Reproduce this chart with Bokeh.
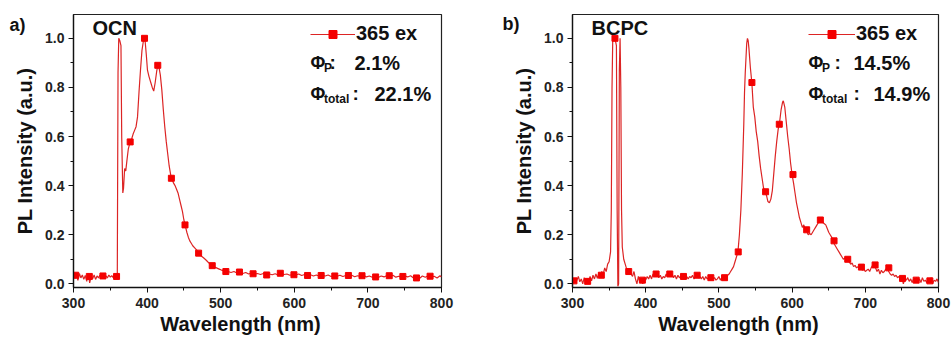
from bokeh.plotting import figure
from bokeh.layouts import row
from bokeh.models import (SingleIntervalTicker, FixedTicker, PrintfTickFormatter,
                          CustomJSTickFormatter, LinearAxis, Label, Legend, LegendItem)
from bokeh.embed import file_html
from bokeh.resources import INLINE

# ---------------- data: (wavelength nm, normalised PL intensity) ----------------
OCN_BASE = [(300, 0.045), (302, 0.022), (304, 0.038), (306, 0.014), (308, 0.042),
            (310, 0.024), (312, 0.036), (314, 0.018), (316, 0.034), (318, 0.010),
            (320, 0.042), (322, 0.004), (324, 0.030), (326, 0.020), (328, 0.036),
            (330, 0.018), (332, 0.032), (334, 0.024), (336, 0.036), (338, 0.022),
            (340, 0.034), (342, 0.026), (344, 0.032), (346, 0.024), (348, 0.036),
            (350, 0.027), (352, 0.033), (354, 0.025), (356, 0.034), (358, 0.028),
            (359.5, 0.030)]
OCN_PEAK = [(360.5, 0.86), (361.5, 1.00), (363, 0.99), (364.5, 0.97), (365.5, 0.60),
            (367, 0.37), (368, 0.39), (369.5, 0.47), (371, 0.46), (372.5, 0.50),
            (374.5, 0.55), (377, 0.578), (379, 0.59), (381, 0.61), (383, 0.625),
            (385, 0.64), (387, 0.68), (389, 0.78), (391, 0.87), (393, 0.95),
            (395, 0.99), (397, 1.00), (399, 0.93), (400.5, 0.87), (402.5, 0.845),
            (405, 0.82), (407, 0.80), (409, 0.785), (411, 0.82), (413, 0.865),
            (414.5, 0.89), (416, 0.885), (418, 0.85), (420, 0.79), (422, 0.71),
            (424, 0.64), (426, 0.58), (428, 0.53), (430, 0.48), (432, 0.445),
            (434, 0.425), (436, 0.41), (438, 0.40), (440, 0.385), (442, 0.37),
            (444, 0.345), (446, 0.32), (448, 0.295), (450, 0.26), (452, 0.235),
            (454, 0.21), (456, 0.19), (458, 0.175), (460, 0.165), (462, 0.155),
            (465, 0.145), (468, 0.135), (471, 0.122), (474, 0.112), (477, 0.105),
            (480, 0.097), (483, 0.088), (486, 0.080), (489, 0.073), (492, 0.068),
            (495, 0.064), (498, 0.060), (501, 0.056), (504, 0.053), (507, 0.050),
            (510, 0.050)]
OCN_TAIL = [(514, 0.046), (518, 0.050), (522, 0.044), (526, 0.048), (530, 0.042),
            (534, 0.046), (538, 0.040), (542, 0.044), (546, 0.040), (550, 0.042),
            (554, 0.038), (558, 0.042), (562, 0.036), (566, 0.040), (570, 0.037),
            (574, 0.041), (578, 0.036), (582, 0.043), (586, 0.038), (590, 0.040),
            (594, 0.035), (598, 0.039), (602, 0.036), (606, 0.040), (610, 0.034),
            (614, 0.038), (618, 0.033), (622, 0.037), (626, 0.032), (630, 0.036),
            (634, 0.031), (638, 0.035), (642, 0.032), (646, 0.036), (650, 0.030),
            (654, 0.034), (658, 0.031), (662, 0.035), (666, 0.030), (670, 0.034),
            (674, 0.031), (678, 0.035), (682, 0.029), (686, 0.033), (690, 0.030),
            (694, 0.035), (698, 0.028), (702, 0.032), (706, 0.027), (710, 0.031),
            (714, 0.026), (718, 0.032), (722, 0.028), (726, 0.034), (730, 0.030),
            (734, 0.035), (738, 0.027), (742, 0.031), (746, 0.026), (750, 0.032),
            (754, 0.028), (758, 0.033), (762, 0.024), (766, 0.030), (770, 0.022),
            (774, 0.032), (778, 0.027), (782, 0.033), (786, 0.026), (790, 0.031),
            (794, 0.024), (798, 0.033), (800, 0.028)]
OCN_MARK_WL = [303, 321.5, 340, 358.5, 377, 396.5, 414.5, 433, 451.5, 470, 488.5,
               507, 525.5, 544, 562.5, 581, 599.5, 618, 636.5, 655, 673.5, 692,
               710.5, 729, 747.5, 766, 784.5]
OCN_MARK_PL = [0.035, 0.030, 0.032, 0.030, 0.578, 1.000, 0.890, 0.430, 0.240,
               0.125, 0.074, 0.050, 0.048, 0.041, 0.036, 0.043, 0.037, 0.034,
               0.034, 0.032, 0.034, 0.033, 0.028, 0.033, 0.030, 0.024, 0.031]

BCPC_BASE = [(300, 0.000), (302, 0.020), (304, 0.005), (306, 0.015), (308, 0.030),
             (310, 0.008), (312, 0.020), (314, 0.000), (316, 0.025), (318, 0.005),
             (320, 0.020), (322, 0.010), (324, 0.030), (326, 0.012), (328, 0.035),
             (330, 0.020), (332, 0.040), (334, 0.022), (336, 0.045), (338, 0.030),
             (340, 0.050), (342, 0.038), (344, 0.065), (346, 0.050), (348, 0.080),
             (350, 0.090), (352, 0.130), (353, 0.300), (354, 0.800), (355, 1.000),
             (357, 1.000), (358, 1.000), (360, 0.970), (361, 0.300), (362, -0.010),
             (363, 0.000), (364, 0.870), (365, 1.000), (366, 0.800), (367, 0.300),
             (368, 0.150), (370, 0.100), (372, 0.080), (374, 0.060), (376, 0.050),
             (378, 0.060), (380, 0.040), (382, 0.030), (384, 0.050), (386, 0.020),
             (388, 0.000), (390, 0.030), (392, 0.005), (394, 0.020), (396, 0.000),
             (398, 0.025), (400, 0.015), (402, 0.030), (404, 0.020), (406, 0.035),
             (408, 0.020), (410, 0.040), (412, 0.030), (414, 0.045), (416, 0.035),
             (418, 0.025), (420, 0.035), (422, 0.020), (424, 0.030), (426, 0.025),
             (428, 0.040), (430, 0.030), (432, 0.045), (434, 0.030), (436, 0.040),
             (438, 0.025), (440, 0.035), (442, 0.020), (444, 0.035), (446, 0.025),
             (448, 0.030), (450, 0.020), (452, 0.035), (454, 0.025), (456, 0.030),
             (458, 0.020), (460, 0.030), (462, 0.025), (464, 0.035), (466, 0.020),
             (468, 0.030), (470, 0.035), (472, 0.025), (474, 0.030), (476, 0.020),
             (478, 0.030), (480, 0.015), (482, 0.030), (484, 0.020), (486, 0.025),
             (488, 0.015), (490, 0.030), (492, 0.020), (494, 0.025), (496, 0.015),
             (498, 0.020), (500, 0.030), (502, 0.015), (504, 0.025), (506, 0.020),
             (508, 0.030), (510, 0.025), (512, 0.035), (514, 0.040), (516, 0.050),
             (518, 0.060), (520, 0.070), (522, 0.090), (524, 0.110)]
BCPC_PEAK = [(526, 0.130), (528, 0.200), (530, 0.300), (532, 0.450), (534, 0.650),
             (535, 0.780), (536, 0.860), (537, 0.920), (538, 0.980), (539, 1.000),
             (540, 0.990), (541, 0.960), (542, 0.920), (543, 0.880), (545, 0.820),
             (547, 0.720), (549, 0.680), (551, 0.620), (553, 0.580), (555, 0.520),
             (557, 0.470), (559, 0.430), (561, 0.390), (563, 0.375), (565, 0.360),
             (567, 0.335), (569, 0.330), (571, 0.345), (573, 0.380), (575, 0.450),
             (577, 0.520), (579, 0.580), (581, 0.630), (583, 0.660), (585, 0.710),
             (587, 0.740), (588, 0.745), (590, 0.720), (592, 0.660), (594, 0.600),
             (596, 0.550), (598, 0.490), (600, 0.445), (602, 0.410), (604, 0.370),
             (606, 0.330), (608, 0.300), (610, 0.270), (612, 0.250), (614, 0.230),
             (616, 0.240), (618, 0.220), (620, 0.215), (622, 0.200), (624, 0.205),
             (626, 0.200), (628, 0.210), (630, 0.220), (632, 0.230), (634, 0.240),
             (636, 0.250), (638, 0.260), (640, 0.265), (642, 0.250), (644, 0.245),
             (646, 0.240), (648, 0.225), (650, 0.210), (652, 0.200), (654, 0.190),
             (656, 0.175), (658, 0.160), (660, 0.150), (662, 0.140), (664, 0.130),
             (666, 0.120), (668, 0.110), (670, 0.100)]
BCPC_TAIL = [(672, 0.105), (674, 0.100), (676, 0.095), (678, 0.090), (680, 0.080),
             (682, 0.085), (684, 0.070), (686, 0.075), (688, 0.065), (690, 0.070),
             (692, 0.060), (694, 0.070), (696, 0.055), (698, 0.060), (700, 0.050),
             (702, 0.055), (704, 0.060), (706, 0.050), (708, 0.065), (710, 0.075),
             (712, 0.080), (714, 0.065), (716, 0.050), (718, 0.060), (720, 0.040),
             (722, 0.055), (724, 0.045), (726, 0.050), (728, 0.060), (730, 0.065),
             (732, 0.050), (734, 0.040), (736, 0.035), (738, 0.040), (740, 0.030),
             (742, 0.035), (744, 0.025), (746, 0.030), (748, 0.020), (750, 0.025),
             (752, 0.000), (754, 0.020), (756, 0.015), (758, 0.025), (760, 0.010),
             (762, 0.020), (764, 0.005), (766, 0.020), (768, 0.015), (770, 0.025),
             (772, 0.010), (774, 0.020), (776, 0.005), (778, 0.025), (780, 0.010),
             (782, 0.015), (784, 0.005), (786, 0.020), (788, 0.010), (790, 0.025),
             (792, 0.000), (794, 0.015), (796, 0.010), (798, 0.020), (800, 0.005)]
BCPC_MARK_WL = [302, 320.7, 339.4, 358, 376.8, 395.5, 414.2, 432.9, 451.6, 470.3,
                489, 507.7, 526.4, 545.1, 563.8, 582.5, 601.2, 619.9, 638.6, 657.3,
                676, 694.7, 713.4, 732.1, 750.8, 769.5, 788.2]
BCPC_MARK_PL = [0.012, 0.010, 0.035, 1.000, 0.050, 0.015, 0.040, 0.040, 0.030,
                0.035, 0.025, 0.025, 0.130, 0.820, 0.375, 0.650, 0.445, 0.220,
                0.260, 0.175, 0.100, 0.068, 0.077, 0.065, 0.022, 0.015, 0.012]

X_TICK_STEP = 100
Y_TICK_STEP = 0.2

# ---------------- styling ----------------
FONT = "Liberation Sans"
INK = "#111111"
LINE_RED = "#dc2424"
MARK_RED = "#f40000"
X0, X1 = 300, 800
Y0, Y1 = -0.015, 1.097
TOP, BOTTOM, HEIGHT = 14, 50, 337


def text_axis(text, ticker, size, standoff):
    """A bare axis whose only job is to carry one labelled tick in a margin."""
    return LinearAxis(ticker=ticker,
                      formatter=CustomJSTickFormatter(code="return '%s';" % text),
                      axis_line_color=None, major_tick_line_color=None,
                      minor_tick_line_color=None, major_tick_in=0, major_tick_out=0,
                      major_label_standoff=standoff,
                      major_label_text_font=FONT, major_label_text_font_style="bold",
                      major_label_text_font_size=size, major_label_text_color=INK)


def build(width, left, right, tag, tag_cy, tag_shift, title_cx, name, curve,
          mk_wl, mk_pl, texts, legend_x, glyph_w):
    p = figure(width=width, height=HEIGHT, x_range=(X0, X1), y_range=(Y0, Y1),
               output_backend="svg", toolbar_location=None,
               min_border_left=left, min_border_right=right,
               min_border_top=TOP, min_border_bottom=BOTTOM)
    p.grid.visible = False
    p.background_fill_color = "white"
    p.border_fill_color = "white"
    p.outline_line_color = "#222222"
    p.outline_line_width = 1.2

    fw = width - left - right
    fh = HEIGHT - TOP - BOTTOM

    def at(cx, cy):
        return (X0 + (cx - left) / fw * (X1 - X0),
                Y1 - (cy - TOP) / fh * (Y1 - Y0))

    wl = [c[0] for c in curve]
    pl = [c[1] for c in curve]
    line_r = p.line(wl, pl, line_color=LINE_RED, line_width=1.2)
    mark_r = p.scatter(mk_wl, mk_pl, marker="square", size=6,
                       fill_color=MARK_RED, line_color=MARK_RED)

    p.xaxis.ticker = SingleIntervalTicker(interval=X_TICK_STEP, num_minor_ticks=2)
    p.yaxis.ticker = SingleIntervalTicker(interval=Y_TICK_STEP, num_minor_ticks=2)
    p.yaxis.formatter = PrintfTickFormatter(format="%.1f")
    for ax in (p.xaxis[0], p.yaxis[0]):
        ax.axis_line_color = INK
        ax.axis_line_width = 1.3
        ax.major_tick_line_color = INK
        ax.minor_tick_line_color = INK
        ax.major_tick_in = 0
        ax.major_tick_out = 5
        ax.minor_tick_in = 0
        ax.minor_tick_out = 3
        ax.major_label_text_font = FONT
        ax.major_label_text_font_style = "bold"
        ax.major_label_text_font_size = "14px"
        ax.major_label_text_color = "#222222"
    p.xaxis.major_label_standoff = 5
    p.yaxis.major_label_standoff = 4
    p.yaxis.axis_label = "PL Intensity (a.u.)"
    p.yaxis.axis_label_standoff = 6
    p.yaxis.axis_label_text_font = FONT
    p.yaxis.axis_label_text_font_style = "bold"
    p.yaxis.axis_label_text_font_size = "20px"
    p.yaxis.axis_label_text_color = INK

    # x-axis title, set slightly left of the frame centre
    title_x, _ = at(title_cx, 0)
    p.add_layout(text_axis("Wavelength (nm)", FixedTicker(ticks=[title_x], minor_ticks=[]),
                           "20px", 2), "below")

    # panel tag ("a)" / "b)") in the upper-left margin
    _, tag_y = at(0, tag_cy)
    p.add_layout(text_axis(tag, FixedTicker(ticks=[tag_y], minor_ticks=[]),
                           "18px", -tag_shift), "left")

    def put(text, cx, cy, size, align="left"):
        x, y = at(cx, cy)
        p.add_layout(Label(x=x, y=y, text=text, text_font=FONT,
                           text_font_style="bold", text_font_size=size,
                           text_color=INK, text_align=align,
                           text_baseline="middle"))

    put(name, left + 19, 27, "20px")
    for t in texts:
        put(*t)

    legend = Legend(items=[LegendItem(label="365 ex", renderers=[line_r, mark_r])],
                    location=(legend_x, 242), padding=0, margin=0, spacing=0,
                    glyph_width=glyph_w, glyph_height=20, label_height=20,
                    label_standoff=1, label_text_font=FONT,
                    label_text_font_style="bold", label_text_font_size="20px",
                    label_text_color=INK,
                    border_line_alpha=0, background_fill_alpha=0)
    p.add_layout(legend)
    return p


ocn_texts = [("Φ", 310, 62, "18px"), ("P", 323.5, 67.5, "12px"), (":", 329, 62, "19px"),
             ("2.1%", 354, 62, "20px"),
             ("Φ", 310, 93, "18px"), ("total", 323.5, 98.5, "12px"), (":", 352, 93, "19px"),
             ("22.1%", 374, 93, "20px")]
bcpc_texts = [("Φ", 328, 62, "18px"), ("P", 341.5, 67.5, "12px"), (":", 354, 62, "19px"),
              ("14.5%", 373, 62, "20px"),
              ("Φ", 328, 93, "18px"), ("total", 341.5, 98.5, "12px"), (":", 373, 93, "19px"),
              ("14.9%", 393, 93, "20px")]

pa = build(480, 73, 39, "a)", 24, 14, 240, "OCN", OCN_BASE + OCN_PEAK + OCN_TAIL,
           OCN_MARK_WL, OCN_MARK_PL, ocn_texts, 237, 45)
pb = build(471, 92, 13, "b)", 23, 9, 258, "BCPC", BCPC_BASE + BCPC_PEAK + BCPC_TAIL,
           BCPC_MARK_WL, BCPC_MARK_PL, bcpc_texts, 236, 47)

layout = row(pa, pb)
open("out.html", "w").write(file_html(layout, INLINE))
